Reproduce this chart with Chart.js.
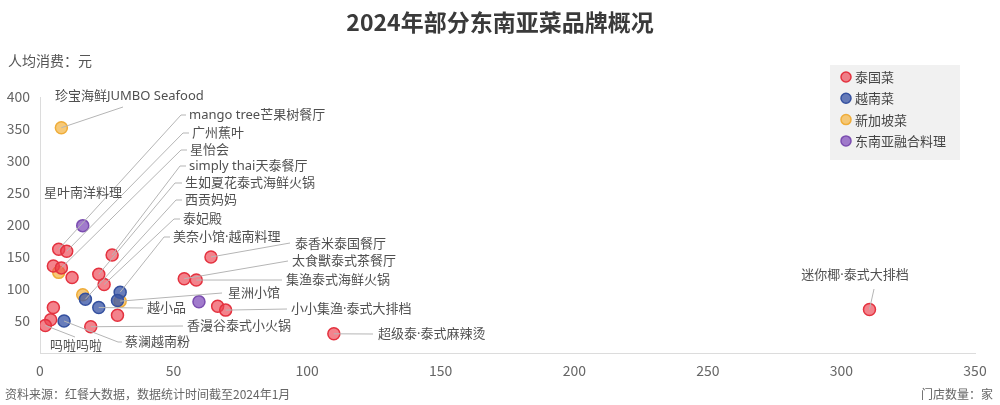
<!DOCTYPE html>
<html>
<head>
<meta charset="utf-8">
<script src="https://cdn.jsdelivr.net/npm/chart.js@4.4.1/dist/chart.umd.min.js"></script>
<style>
  html, body { margin: 0; padding: 0; background: #fff; }
  #wrap { width: 1000px; height: 405px; position: relative; }
</style>
</head>
<body>
<div id="wrap"><canvas id="chart" width="1000" height="405"></canvas></div>
<script>
const FONT = '"Noto Sans CJK SC", "Noto Sans", sans-serif';
const LABEL_FONT = '"Noto Sans", "Noto Sans CJK SC", sans-serif';

// 门店数量(家), 人均消费(元)
const thaiStores = [7, 10, 5, 8, 12, 27, 22, 24, 29, 5, 4, 2, 19, 64, 54, 58.5, 66.5, 69.5, 110, 310.5];
const thaiPrice  = [162, 159, 136, 133, 118, 153, 123, 107, 59, 71, 52, 43, 41, 150, 116, 114, 73, 67, 30, 68];
const thaiNames  = ["mango tree芒果树餐厅", "广州蕉叶", "", "星怡会", "", "simply thai天泰餐厅", "生如夏花泰式海鲜火锅", "泰妃殿",
                    "", "", "", "吗啦吗啦", "香漫谷泰式小火锅", "泰香米泰国餐厅", "太食獸泰式茶餐厅", "集渔泰式海鲜火锅",
                    "", "小小集渔·泰式大排档", "超级泰·泰式麻辣烫", "迷你椰·泰式大排档"];

const vietStores = [17, 22, 30, 29, 9];
const vietPrice  = [84, 71, 95, 82, 50];
const vietNames  = ["西贡妈妈", "越小品", "美奈小馆·越南料理", "", "蔡澜越南粉"];

const singStores = [8, 7, 16, 30];
const singPrice  = [352, 126, 91, 81];
const singNames  = ["珍宝海鲜JUMBO Seafood", "", "", "星洲小馆"];

const fusionStores = [16, 59.5];
const fusionPrice  = [199, 80];
const fusionNames  = ["星叶南洋料理", ""];

const xTicks = [0, 50, 100, 150, 200, 250, 300, 350];
const yTicks = [50, 100, 150, 200, 250, 300, 350, 400];

function toPoints(xs, ys, names) {
  return xs.map((x, i) => ({ x: x, y: ys[i], name: names[i] }));
}

// where each label's text sits and the bend of its leader line (pixels)
const labelLayout = {
  "珍宝海鲜JUMBO Seafood": { tx: 55, ty: 96, line: [[123, 107]] },
  "mango tree芒果树餐厅": { tx: 189, ty: 115, line: [[181, 115], [186, 115]] },
  "广州蕉叶": { tx: 192, ty: 133, line: [[183, 133], [189, 133]] },
  "星怡会": { tx: 190, ty: 150, line: [[181, 150], [187, 150]] },
  "simply thai天泰餐厅": { tx: 189, ty: 166, line: [[180, 166], [186, 166]] },
  "生如夏花泰式海鲜火锅": { tx: 185, ty: 183, line: [[175, 183], [182, 183]] },
  "西贡妈妈": { tx: 185, ty: 200, line: [[176, 200], [182, 200]] },
  "泰妃殿": { tx: 183, ty: 219, line: [[174, 219], [180, 219]] },
  "美奈小馆·越南料理": { tx: 173, ty: 237, line: [[164, 237], [170, 237]] },
  "星叶南洋料理": { tx: 83, ty: 193, align: "center", line: [] },
  "泰香米泰国餐厅": { tx: 295, ty: 244, line: [[290, 243]] },
  "太食獸泰式茶餐厅": { tx: 292, ty: 261, line: [[288, 261]] },
  "集渔泰式海鲜火锅": { tx: 286, ty: 280, line: [[282, 280]] },
  "星洲小馆": { tx: 228, ty: 293, line: [[222, 293]] },
  "越小品": { tx: 147, ty: 308, line: [[143, 308]] },
  "小小集渔·泰式大排档": { tx: 291, ty: 309, line: [[287, 309]] },
  "香漫谷泰式小火锅": { tx: 187, ty: 326, line: [[183, 326]] },
  "蔡澜越南粉": { tx: 125, ty: 342, line: [[118, 342], [122, 342]] },
  "吗啦吗啦": { tx: 76, ty: 346, align: "center", line: [[75, 337]] },
  "超级泰·泰式麻辣烫": { tx: 378, ty: 334, line: [[373, 334]] },
  "迷你椰·泰式大排档": { tx: 855, ty: 275, align: "center", line: [[874, 289]] }
};

const annotations = {
  id: "annotations",
  afterDatasetsDraw(chart) {
    const ctx = chart.ctx;
    ctx.save();
    ctx.font = "13px " + LABEL_FONT;
    ctx.textBaseline = "middle";
    chart.data.datasets.forEach((ds, di) => {
      const meta = chart.getDatasetMeta(di);
      ds.data.forEach((p, i) => {
        const lay = labelLayout[p.name];
        if (!p.name || !lay) return;
        const el = meta.data[i];
        if (lay.line.length) {
          ctx.strokeStyle = "#b5b5b5";
          ctx.lineWidth = 1;
          ctx.beginPath();
          ctx.moveTo(el.x, el.y);
          lay.line.forEach(q => ctx.lineTo(q[0], q[1]));
          ctx.stroke();
        }
        ctx.fillStyle = "#505050";
        ctx.textAlign = lay.align || "left";
        ctx.fillText(p.name, lay.tx, lay.ty);
      });
    });
    ctx.restore();
  }
};

const decorations = {
  id: "decorations",
  afterDraw(chart) {
    const ctx = chart.ctx;
    ctx.save();
    ctx.fillStyle = "#3a3a3a";
    ctx.font = "bold 23px " + FONT;
    ctx.textAlign = "center";
    ctx.textBaseline = "middle";
    ctx.fillText("2024年部分东南亚菜品牌概况", 500, 22);

    ctx.fillStyle = "#555";
    ctx.font = "14px " + FONT;
    ctx.textAlign = "left";
    ctx.fillText("人均消费：元", 8, 61);

    ctx.font = "12px " + FONT;
    ctx.fillStyle = "#666";
    ctx.fillText("资料来源：红餐大数据，数据统计时间截至2024年1月", 5, 394);
    ctx.textAlign = "right";
    ctx.fillText("门店数量：家", 993, 394);

    // legend box
    ctx.fillStyle = "#f1f1f1";
    ctx.fillRect(830, 65, 130, 95);
    ctx.textAlign = "left";
    ctx.font = "13px " + FONT;
    chart.data.datasets.forEach((ds, i) => {
      const y = 77 + i * 21.3;
      ctx.beginPath();
      ctx.arc(846, y, 5, 0, Math.PI * 2);
      ctx.fillStyle = ds.backgroundColor;
      ctx.fill();
      ctx.lineWidth = 1.5;
      ctx.strokeStyle = ds.borderColor;
      ctx.stroke();
      ctx.fillStyle = "#444";
      ctx.fillText(ds.label, 855, y);
    });
    ctx.restore();
  }
};

function series(label, xs, ys, names, fill, border) {
  return {
    label: label,
    data: toPoints(xs, ys, names),
    backgroundColor: fill,
    borderColor: border,
    borderWidth: 1.5,
    pointRadius: 6,
    pointHoverRadius: 6
  };
}

new Chart(document.getElementById("chart"), {
  type: "scatter",
  data: {
    datasets: [
      series("泰国菜", thaiStores, thaiPrice, thaiNames, "rgba(236,64,78,0.65)", "#e4323f"),
      series("越南菜", vietStores, vietPrice, vietNames, "rgba(62,88,168,0.78)", "#34509f"),
      series("新加坡菜", singStores, singPrice, singNames, "rgba(246,192,95,0.85)", "#efad3a"),
      series("东南亚融合料理", fusionStores, fusionPrice, fusionNames, "rgba(145,100,195,0.85)", "#7b4db0")
    ]
  },
  options: {
    responsive: false,
    animation: false,
    layout: { padding: { left: 0, right: 25, top: 97, bottom: 0 } },
    plugins: {
      legend: { display: false },
      tooltip: { enabled: false }
    },
    scales: {
      x: {
        type: "linear",
        min: 0, max: 350,
        afterBuildTicks: s => { s.ticks = xTicks.map(v => ({ value: v })); },
        afterFit: s => { s.height = 52; },
        grid: { display: false, drawTicks: false },
        border: { display: true, color: "#dcdcdc" },
        ticks: { padding: 9, color: "#666", font: { size: 14, family: FONT } }
      },
      y: {
        type: "linear",
        min: 0, max: 400,
        afterBuildTicks: s => { s.ticks = yTicks.map(v => ({ value: v })); },
        afterFit: s => { s.width = 40; },
        grid: { display: false, drawTicks: false },
        border: { display: true, color: "#dcdcdc" },
        ticks: { padding: 10, color: "#666", font: { size: 14, family: FONT } }
      }
    }
  },
  plugins: [annotations, decorations]
});
</script>
</body>
</html>
